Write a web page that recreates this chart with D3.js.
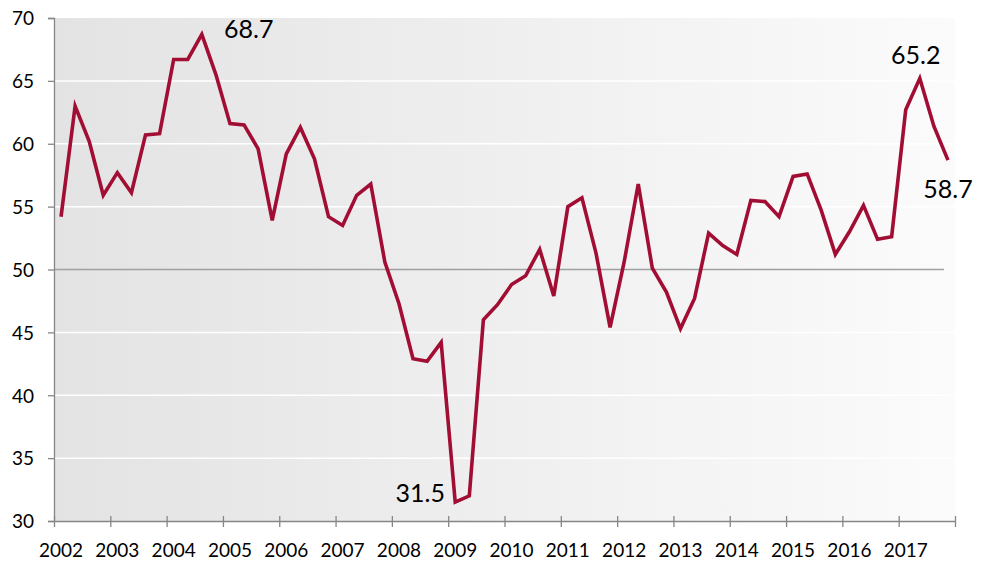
<!DOCTYPE html>
<html>
<head>
<meta charset="utf-8">
<script src="https://cdn.jsdelivr.net/npm/d3@7"></script>
<style>
  body { margin: 0; background: #fff; }
  svg text { font-family: Lato, "Open Sans", sans-serif; fill: #000; }
</style>
</head>
<body>
<div id="chart"></div>
<script>
// DATA

var years = ["2002", "2003", "2004", "2005", "2006", "2007", "2008", "2009",
             "2010", "2011", "2012", "2013", "2014", "2015", "2016", "2017"];

// quarterly values, 2002 Q1 .. 2017 Q4
var values = [
  54.2, 63.0, 60.2, 55.9, 57.7, 56.1, 60.7, 60.8,
  66.7, 66.7, 68.7, 65.5, 61.6, 61.5, 59.6, 53.9,
  59.2, 61.3, 58.8, 54.2, 53.5, 55.9, 56.8, 50.6,
  47.3, 42.9, 42.7, 44.2, 31.5, 32.0, 46.0, 47.2,
  48.8, 49.5, 51.6, 47.9, 55.0, 55.7, 51.3, 45.4,
  50.6, 56.8, 50.1, 48.2, 45.3, 47.7, 52.9, 51.9,
  51.2, 55.5, 55.4, 54.2, 57.4, 57.6, 54.7, 51.2,
  53.0, 55.1, 52.4, 52.6, 62.7, 65.2, 61.4, 58.7
];

var yTicks = [30, 35, 40, 45, 50, 55, 60, 65, 70];

// points that carry a value label
var labelled = [10, 28, 61, 63];

// D3 CODE

var width = 988;
var height = 582;

// plot box (note: "top" is taken by window.top)
var plotLeft = 54, plotRight = 955, plotTop = 18, plotBottom = 521;

var x = d3.scaleLinear()
    .domain([0, values.length])
    .range([plotLeft, plotRight]);

var y = d3.scaleLinear()
    .domain([30, 70])
    .range([plotBottom, plotTop]);

var svg = d3.select("#chart")
    .append("svg")
    .attr("width", width)
    .attr("height", height);

// plot area background, grey on the left fading to white
var grad = svg.append("defs").append("linearGradient")
    .attr("id", "bg")
    .attr("x1", "0%").attr("x2", "100%")
    .attr("y1", "0%").attr("y2", "0%");
grad.append("stop").attr("offset", "0%").attr("stop-color", "#e3e3e3");
grad.append("stop").attr("offset", "100%").attr("stop-color", "#fbfbfb");

svg.append("rect")
    .attr("x", plotLeft)
    .attr("y", plotTop)
    .attr("width", plotRight - plotLeft)
    .attr("height", plotBottom - plotTop)
    .style("fill", "url(#bg)");

// gridlines (white), 50 is a grey reference line
svg.selectAll("line.grid")
    .data(yTicks.filter(function (t) { return t !== 30 && t !== 70; }))
    .enter()
    .append("line")
    .attr("class", "grid")
    .attr("x1", plotLeft)
    .attr("x2", function (t) { return t === 50 ? 944 : plotRight; })
    .attr("y1", function (t) { return y(t); })
    .attr("y2", function (t) { return y(t); })
    .style("stroke", function (t) { return t === 50 ? "#a0a0a0" : "#ffffff"; })
    .style("stroke-width", 1.5);

// y axis
var yAxis = svg.append("g")
    .attr("transform", "translate(" + plotLeft + ",0)")
    .call(d3.axisLeft(y).tickValues(yTicks).tickSize(6).tickPadding(14));
yAxis.select(".domain").style("stroke", "#868686").style("stroke-width", 1.3);
yAxis.selectAll(".tick line").style("stroke", "#868686").style("stroke-width", 1.3);
yAxis.selectAll(".tick text")
    .style("font-size", "19px")
    .style("font-family", "Lato, sans-serif")
    .attr("dy", "0.36em");

// x axis: ticks at year boundaries, labels under the first quarter
var xAxis = svg.append("g")
    .attr("transform", "translate(0," + plotBottom + ")")
    .call(d3.axisBottom(x)
        .tickValues(d3.range(0, values.length + 1, 4))
        .tickSize(6)
        .tickSizeOuter(0)
        .tickFormat(""));
xAxis.select(".domain").style("stroke", "#868686").style("stroke-width", 1.3);
xAxis.selectAll(".tick line")
    .attr("y1", -5)
    .style("stroke", "#868686")
    .style("stroke-width", 1.3);

svg.selectAll("text.year")
    .data(years)
    .enter()
    .append("text")
    .attr("class", "year")
    .attr("x", function (d, i) { return x(i * 4 + 0.5); })
    .attr("y", 557)
    .attr("text-anchor", "middle")
    .style("font-size", "19px")
    .text(function (d) { return d; });

// the line
var line = d3.line()
    .x(function (d, i) { return x(i + 0.5); })
    .y(function (d) { return y(d); });

svg.append("path")
    .datum(values)
    .attr("d", line)
    .style("fill", "none")
    .style("stroke", "#a20e33")
    .style("stroke-width", 3.6)
    .style("stroke-linejoin", "miter");

// value labels
var offsets = { 10: [47, 4], 28: [-35, 0], 61: [-4, -14], 63: [0, 38] };

svg.selectAll("text.value")
    .data(labelled)
    .enter()
    .append("text")
    .attr("class", "value")
    .attr("x", function (i) { return x(i + 0.5) + offsets[i][0]; })
    .attr("y", function (i) { return y(values[i]) + offsets[i][1]; })
    .attr("text-anchor", "middle")
    .style("font-size", "25px")
    .text(function (i) { return values[i].toFixed(1); });
</script>
</body>
</html>
